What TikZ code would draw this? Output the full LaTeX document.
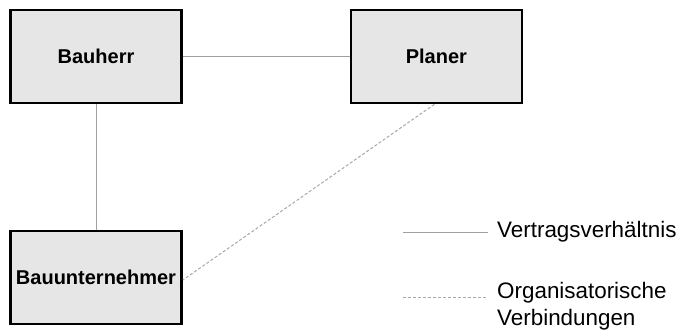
\documentclass[tikz,border=0pt]{standalone}
\usepackage{fontspec}
\setmainfont{Liberation Sans}
\begin{document}
\begin{tikzpicture}[x=1pt,y=-1pt,
  party/.style={draw=black,line width=2.7pt,fill=boxgray,minimum width=171pt,minimum height=93pt,inner sep=0pt,
    font=\fontsize{20}{24}\selectfont\bfseries},
  contract/.style={draw=linegray,line width=1pt},
  organize/.style={draw=dashgray,line width=1pt,dash pattern=on 3pt off 2pt},
  legendtext/.style={font=\fontsize{22.4}{27}\selectfont,inner sep=0pt,align=left}]
\definecolor{boxgray}{HTML}{E6E6E6}
\definecolor{linegray}{HTML}{A0A0A0}
\definecolor{dashgray}{HTML}{A8A8A8}
\useasboundingbox (0,0) rectangle (677,333);

% parties
\node[party] (bauherr) at (96,56.5) {Bauherr};
\node[party] (planer) at (436.4,56.5) {Planer};
\node[party] (bau) at (96,277.5) {Bauunternehmer};

% relations
\draw[contract] (bauherr.east) -- (planer.west);
\draw[contract] (bauherr.south) -- (bau.north);
\draw[organize] ([xshift=-2pt]planer.south) -- ([yshift=-2.5pt]bau.east);

% legend
\coordinate (l1a) at (403,232);
\coordinate (l1b) at (488,232);
\coordinate (l2a) at (403,297);
\coordinate (l2b) at (488,297);
\draw[contract] (l1a) -- (l1b);
\draw[organize] (l2a) -- (l2b);
\node[legendtext,anchor=base west] (lt1) at (497,237.7) {Vertragsverhältnis};
\node[legendtext,anchor=base west] (lt2) at (497,325) {Organisatorische\\Verbindungen};
\end{tikzpicture}
\end{document}
